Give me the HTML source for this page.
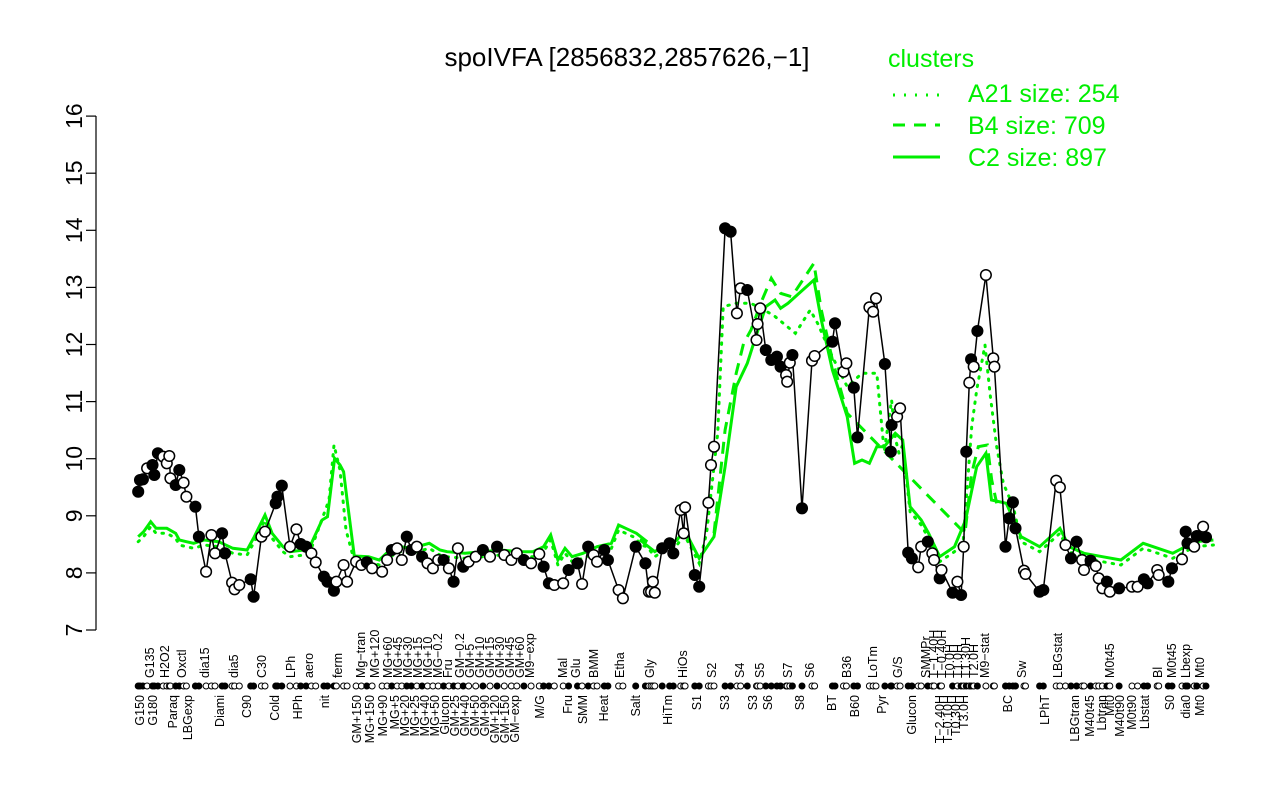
<!DOCTYPE html>
<html><head><meta charset="utf-8"><style>
body{margin:0;background:#fff;}
svg{display:block;font-family:"Liberation Sans",sans-serif;}
</style></head><body>
<svg id="s" width="1280" height="800" viewBox="0 0 1280 800" xmlns="http://www.w3.org/2000/svg">
<rect width="1280" height="800" fill="#fff"/>
<text x="627" y="66" font-size="26" text-anchor="middle">spoIVFA [2856832,2857626,−1]</text>
<text x="888" y="67" font-size="25" fill="#00ee00">clusters</text>
<line x1="893" y1="95" x2="940" y2="95" stroke="#00ee00" stroke-width="3" stroke-dasharray="2,9"/>
<text x="968" y="102" font-size="25" fill="#00ee00">A21 size: 254</text>
<line x1="893" y1="125" x2="940" y2="125" stroke="#00ee00" stroke-width="3" stroke-dasharray="12,9"/>
<text x="968" y="134" font-size="25" fill="#00ee00">B4 size: 709</text>
<line x1="893" y1="157" x2="940" y2="157" stroke="#00ee00" stroke-width="3"/>
<text x="968" y="166" font-size="25" fill="#00ee00">C2 size: 897</text>
<g id="ax" stroke="#000" stroke-width="1.2"></g>
<g id="gr" fill="none"></g>
<g id="bl"></g>
<g id="lab" font-size="12.5"></g>
</svg>
<script>
var NS="http://www.w3.org/2000/svg";
function el(p,t,a,txt){var e=document.createElementNS(NS,t);for(var k in a)e.setAttribute(k,a[k]);if(txt)e.textContent=txt;document.getElementById(p).appendChild(e);return e;}
el('ax','line',{x1:96,y1:116,x2:96,y2:630});
for(var v=7;v<=16;v++){var y=630-(v-7)*57.1;el('ax','line',{x1:86,y1:y,x2:96,y2:y});
el('lab','text',{x:0,y:0,'font-size':23,'text-anchor':'middle',transform:'translate(82,'+y+') rotate(-90)',stroke:'none'},String(v));}
function z1(a){return a.map(function(p){return [90+p[0]/2.8,400+p[1]/3,p[2]];});}
function z2(a){return a.map(function(p){return [640+p[0]/2.703,200+p[1]/3,p[2]];});}
function z4(a){return a.map(function(p){return [900+p[0]/3,240+p[1]/3,p[2]];});}
var A=z1([[135,275,1],[148,238,1],[140,240,1],[160,205,0],[175,195,1],[190,160,1],[205,170,0],[222,168,0],[180,225,1],[215,190,0],[225,235,0],[240,255,1],[250,210,1],[262,248,0],[270,290,0],[295,320,1],[305,410,1],[325,515,0],[340,405,0],[350,460,0],[370,400,1],[378,460,1],[398,548,0],[405,568,0],[418,555,0],[450,538,1],[458,590,1],[480,410,0],[490,395,0],[520,310,1],[525,290,1],[537,257,1],[560,440,0],[578,388,0],[590,432,1],[605,440,1],[620,460,0],[632,487,0],[655,530,1],[665,545,1],[683,572,1],[690,545,0],[710,495,0],[720,545,0],[745,485,0],[760,495,0],[775,487,1],[790,505,0],[818,515,0],[832,480,0],[845,450,1],[860,445,0],[873,480,0],[887,410,1],[900,450,1],[915,440,0],[930,470,1],[945,490,0],[960,505,0],[975,480,0],[990,480,1],[1005,505,0],[1018,545,1],[1030,445,0],[1045,500,1],[1060,485,0],[1080,470,0],[1100,450,1],[1120,470,0],[1140,440,1],[1160,465,0],[1180,480,0],[1195,460,0],[1215,480,1],[1235,490,0],[1258,462,0],[1270,500,1],[1285,550,1],[1300,555,0],[1325,550,0],[1340,510,1],[1365,490,1],[1378,552,0],[1395,440,1],[1410,465,0],[1420,485,0],[1440,450,1],[1450,480,1],[1480,570,0],[1492,595,0],[1528,440,1],[1555,490,1],[1565,575,0]]);
var B=z2([[30,1175,0],[40,1178,0],[35,1145,0],[60,1045,1],[80,1030,1],[90,1060,1],[110,930,0],[122,922,0],[118,1000,0],[148,1125,1],[160,1160,1],[185,908,0],[192,795,0],[200,740,0],[230,85,1],[245,95,1],[262,340,0],[272,265,0],[290,270,1],[315,420,0],[318,372,0],[325,325,0],[340,450,1],[355,480,1],[370,470,1],[380,500,1],[395,525,0],[398,545,0],[405,488,0],[412,465,1],[438,925,1],[465,482,0],[472,468,0],[520,425,1],[527,370,1],[550,515,0],[558,490,0],[578,563,1],[588,712,1],[620,322,0],[630,335,0],[638,295,0],[662,492,1],[680,675,1],[678,755,1],[695,650,0],[703,625,0],[725,1058,1],[735,1075,1],[752,1102,0],[760,1040,0],[778,1025,1],[790,1060,0],[795,1080,0],[810,1135,1],[815,1110,0],[845,1178,1],[858,1145,0],[868,1185,1],[875,1040,0],[882,755,1],[890,548,0],[895,478,1],[902,500,0],[912,393,1],[935,225,0],[955,475,0],[958,500,0],[988,1040,1],[998,955,1],[1008,907,1],[1015,985,1],[1038,1112,0],[1042,1122,0],[1080,1175,1],[1090,1170,1],[1125,842,0],[1135,862,0],[1150,1035,0],[1165,1075,1],[1180,1025,1],[1195,1080,0],[1200,1110,0],[1218,1082,1],[1232,1098,0],[1240,1135,0],[1250,1165,0],[1262,1145,1],[1270,1175,0],[1295,1165,1],[1330,1160,0],[1345,1160,0],[1362,1138,1],[1372,1150,1],[1398,1110,0],[1402,1125,0],[1428,1145,1],[1438,1105,1],[1465,1078,0],[1475,995,1],[1480,1030,1],[1498,1040,0],[1505,1008,1],[1522,980,0],[1530,1012,1]]);
var P=A.concat(B).sort(function(a,b){return a[0]-b[0];});
var S=z1([[135,410],[150,395],[170,365],[185,385],[215,385],[240,400],[250,420],[270,425],[290,430],[320,420],[360,425],[400,445],[440,450],[460,410],[490,345],[510,400],[540,440],[560,455],[600,450],[620,430],[650,360],[665,350],[685,175],[700,195],[710,215],[720,300],[740,468],[780,470],[810,480],[830,460],[870,440],[900,445],[950,430],[980,450],[1000,455],[1050,460],[1100,455],[1150,450],[1200,455],[1240,455],[1270,440],[1290,405],[1310,480],[1330,445],[1350,470],[1380,460],[1420,440],[1460,430],[1480,375],[1500,385],[1530,400],[1560,425]]).concat(
z2([[0,1020],[40,1055],[60,1040],[100,1020],[120,990],[160,1075],[200,1010],[230,800],[260,560],[290,490],[310,420],[340,320],[365,300],[380,325],[400,310],[430,280],[470,240],[490,360],[520,510],[560,650],[580,790],[600,780],[620,790],[640,740],[660,740],[690,700],[710,720],[730,920],[760,960],[780,1000],[810,1070],[850,1040],[880,960],[910,800],[935,760],[950,900],[990,910],[1030,1010],[1080,1040],[1135,985],[1160,1040],[1200,1060],[1250,1070],[1300,1080],[1360,1030],[1440,1060],[1500,1025],[1550,1020]]));
function pts(a){return a.map(function(p){return p[0].toFixed(1)+','+p[1].toFixed(1);}).join(' ');}
var D=[];S.forEach(function(p){if((p[0]>700&&p[0]<880)||(p[0]>960&&p[0]<1015)||(p[0]>320&&p[0]<350))return;D.push([p[0],p[1]+5]);});
D=D.concat([[329,500],[334,445],[340,470],[346,530]]).concat(z2([[180,1000],[210,700],[225,320],[260,310],[300,310],[360,345],[420,400],[460,330],[480,370],[520,470],[560,560],[600,520],[640,520],[680,600],[700,760]])).concat(z4([[190,900],[215,560],[230,450],[255,315],[270,460],[290,620],[310,730],[340,800]]));
D.sort(function(a,b){return a[0]-b[0];});
el('gr','polyline',{points:pts(D),stroke:'#00ee00','stroke-width':3,'stroke-dasharray':'1.5,7','stroke-linecap':'round'});
var Dd=z2([[200,1000],[230,690],[260,520],[280,430],[300,390],[330,300],[355,235],[380,280],[410,290],[440,240],[470,190],[490,330],[520,480],[560,640]]).concat(z4([[195,880],[215,700],[235,620],[262,615],[275,720],[290,790]]));
el('gr','polyline',{points:pts(Dd),stroke:'#00ee00','stroke-width':3,'stroke-dasharray':'12,8'});
el('gr','polyline',{points:pts(S),stroke:'#00ee00','stroke-width':3});
el('bl','polyline',{points:pts(P),fill:'none',stroke:'#000','stroke-width':1.5});
P.forEach(function(p){el('bl','circle',{cx:p[0].toFixed(1),cy:p[1].toFixed(1),r:5.3,fill:p[2]?'#000':'#fff',stroke:'#000','stroke-width':1.5});});
P.forEach(function(p){el('bl','circle',{cx:p[0].toFixed(1),cy:686,r:3,fill:p[2]?'#000':'#fff',stroke:'#000','stroke-width':1});});
var up=[[150,'G135'],[165,'H2O2'],[182,'Oxctl'],[205,'dia15'],[234,'dia5'],[262,'C30'],[291,'LPh'],[309,'aero'],[338,'ferm'],[361,'Mg−tran'],[375,'MG+120'],[388,'MG+60'],[398,'MG+45'],[408,'MG+30'],[418,'MG+15'],[428,'MG+10'],[438,'MG−0.2'],[448,'Fru'],[460,'GM−0.2'],[470,'GM+5'],[480,'GM+10'],[490,'GM+15'],[500,'GM+30'],[510,'GM+45'],[520,'GM+60'],[530,'M9−exp'],[563,'Mal'],[576,'Glu'],[594,'BMM'],[620,'Etha'],[650,'Gly'],[683,'HiOs'],[712,'S2'],[740,'S4'],[760,'S5'],[788,'S7'],[810,'S6'],[847,'B36'],[873,'LoTm'],[898,'G/S'],[926,'SMMPr'],[934,'T−1.40H'],[942,'T−0.40H'],[950,'T0.0H'],[958,'T1.0H'],[966,'T1.30H'],[974,'T2.0H'],[985,'M9−stat'],[1022,'Sw'],[1058,'LBGstat'],[1110,'M0t45'],[1158,'Bl'],[1172,'M0t45'],[1186,'Lbexp'],[1200,'Mt0']];
var lo=[[140,'G150'],[153,'G180'],[173,'Paraq'],[188,'LBGexp'],[220,'Diami'],[247,'C90'],[275,'Cold'],[298,'HPh'],[325,'nit'],[357,'GM+150'],[370,'MG+150'],[383,'MG+90'],[395,'MG+5'],[405,'MG+20'],[415,'MG+25'],[425,'MG+40'],[435,'MG+50'],[445,'Glucon'],[455,'GM+25'],[465,'GM+40'],[475,'GM+50'],[485,'GM+90'],[495,'GM+120'],[505,'GM+150'],[515,'GM−exp'],[540,'M/G'],[568,'Fru'],[583,'SMM'],[604,'Heat'],[636,'Salt'],[668,'HiTm'],[697,'S1'],[725,'S3'],[753,'S3'],[768,'S6'],[800,'S8'],[832,'BT'],[855,'B60'],[882,'Pyr'],[912,'Glucon'],[940,'T−2.40H'],[948,'T−0.10H'],[956,'T0.30H'],[964,'T3.0H'],[1008,'BC'],[1045,'LPhT'],[1075,'LBGtran'],[1090,'M40t45'],[1102,'Lbtran'],[1110,'Mt0'],[1120,'M40t90'],[1132,'M0t90'],[1145,'Lbstat'],[1170,'S0'],[1186,'dia0'],[1200,'Mt0']];
up.forEach(function(l){el('lab','text',{'text-anchor':'start',transform:'translate('+(l[0]+4)+',678) rotate(-90)'},l[1]);});
lo.forEach(function(l){el('lab','text',{'text-anchor':'end',transform:'translate('+(l[0]+4)+',695) rotate(-90)'},l[1]);});
</script>
</body></html>
